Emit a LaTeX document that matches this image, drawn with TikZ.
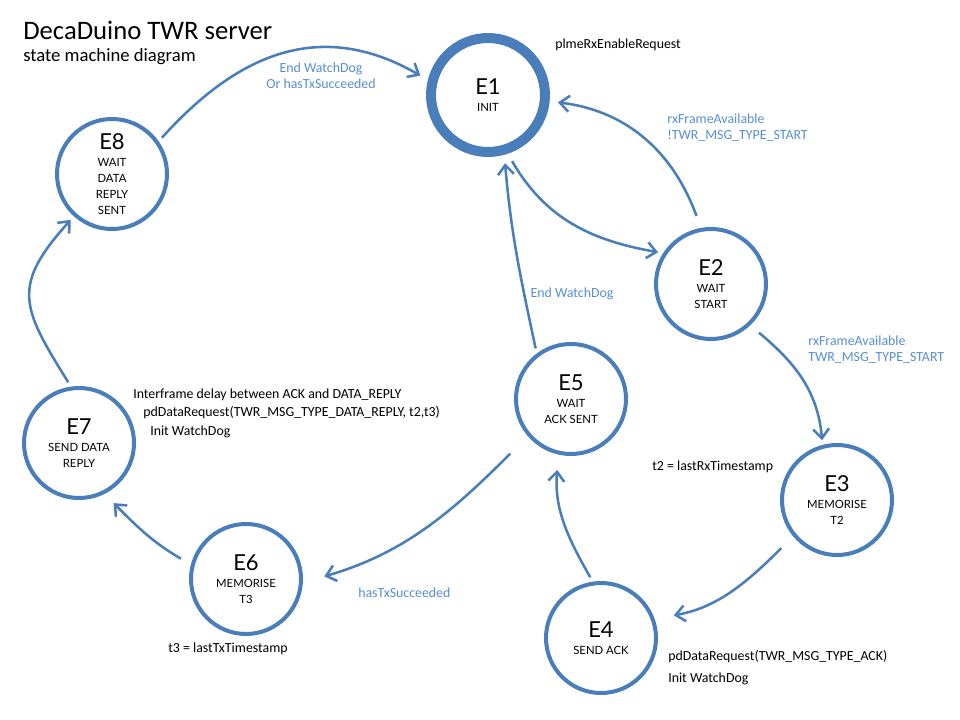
\documentclass[tikz,border=0pt]{standalone}
\usepackage{fontspec}
\setmainfont{Carlito}
\newfontfamily\statefont{Lato}
\usetikzlibrary{arrows.meta}
\definecolor{statecol}{RGB}{74,126,187}
\definecolor{guardcol}{RGB}{85,142,213}
\tikzset{state/.style={circle,draw=statecol,line width=3pt,minimum size=82.5pt,inner sep=0pt,outer sep=5pt,align=center,font=\statefont\fontsize{8.5}{12}\selectfont},
init state/.style={state,line width=7.5pt,minimum size=85.5pt,outer sep=10pt},
trans/.style={draw=statecol,line width=1.9pt,-{Straight Barb[length=7pt,width=12pt]}},
guard/.style={text=guardcol,font=\fontsize{10.4}{12}\selectfont,inner sep=0pt,align=left},
action/.style={font=\fontsize{10.4}{12}\selectfont,inner sep=0pt,align=left}}
\newcommand{\statename}[1]{{\fontsize{16.5}{18}\selectfont #1}\\[1pt]}

\begin{document}
\begin{tikzpicture}[x=0.75pt,y=0.75pt]
        \useasboundingbox (0,0) rectangle (960,-720);

        % title
        \node [anchor=west,inner sep=0pt,font=\fontsize{20}{22}\selectfont] (title) at (23,-30) {DecaDuino TWR server};
        \node [anchor=west,inner sep=0pt,font=\fontsize{14}{16}\selectfont] (subtitle) at (23,-57) {state machine diagram};

        % states
        \node [init state] (E1) at (488,-95) {\statename{E1}INIT};
        \node [state] (E2) at (711,-284) {\statename{E2}WAIT\\START};
        \node [state] (E3) at (837,-500) {\statename{E3}MEMORISE\\T2};
        \node [state] (E4) at (601,-638) {\statename{E4}SEND ACK};
        \node [state] (E5) at (571,-399) {\statename{E5}WAIT\\ACK SENT};
        \node [state] (E6) at (246,-579) {\statename{E6}MEMORISE\\T3};
        \node [state] (E7) at (79,-443) {\statename{E7}SEND DATA\\REPLY};
        \node [state] (E8) at (112,-174) {\statename{E8}WAIT\\DATA\\REPLY\\SENT};

        % transitions
        \draw [trans] (E8.36) to[out=48,in=150,looseness=1.1] (E1.164);
        \draw [trans] (E1.290) to[out=-60,in=170] (E2.149);
        \draw [trans,shorten <=6pt] (E2.101) to[out=110,in=-7] (E1.-6);
        \draw [trans,shorten <=5pt] (E2.-46) to[out=-40,in=95] (E3.104);
        \draw [trans,shorten <=9pt,shorten >=11pt] (E3.220) to[out=-135,in=10] (E4.19);
        \draw [trans,shorten >=8pt] (E4.100) to[out=120,in=265] (E5.258);
        \draw [trans] (E5.125) to[out=102,in=275] (E1.284);
        \draw [trans,shorten <=15pt,shorten >=13pt] (E5.221) to[out=225,in=16] (E6.-2);
        \draw [trans,shorten <=5pt,shorten >=6pt] (E6.164) to[out=150,in=-45] (E7.-62);
        \draw [trans] (E7.100) to[out=122,in=228,looseness=1.4] (E8.228);

        % guards
        \node [guard,align=center] (g81) at (321,-76) {End WatchDog\\Or hasTxSucceeded};
        \node [guard,anchor=west] (g21) at (667,-128) {rxFrameAvailable\\!TWR\_MSG\_TYPE\_START};
        \node [guard,anchor=west] (g23) at (808,-350) {rxFrameAvailable\\TWR\_MSG\_TYPE\_START};
        \node [guard] (g51) at (572,-294) {End WatchDog};
        \node [guard,anchor=west] (g56) at (358,-593) {hasTxSucceeded};

        % actions
        \node [action,anchor=west] (a1) at (555,-45) {plmeRxEnableRequest};
        \node [action,anchor=west] (a3) at (652,-467) {t2 = lastRxTimestamp};
        \node [action,anchor=west] (a7a) at (133,-395) {Interframe delay between ACK and DATA\_REPLY};
        \node [action,anchor=west] (a7b) at (143,-413) {pdDataRequest(TWR\_MSG\_TYPE\_DATA\_REPLY, t2,t3)};
        \node [action,anchor=west] (a7c) at (150,-432) {Init WatchDog};
        \node [action,anchor=west] (a6) at (168,-649) {t3 = lastTxTimestamp};
        \node [action,anchor=west] (a4a) at (668,-657) {pdDataRequest(TWR\_MSG\_TYPE\_ACK)};
        \node [action,anchor=west] (a4b) at (668,-679) {Init WatchDog};
\end{tikzpicture}
\end{document}
